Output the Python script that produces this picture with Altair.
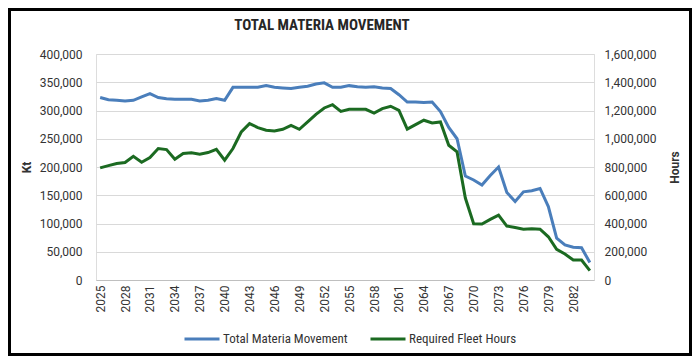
import altair as alt
import pandas as pd

years = list(range(2025, 2085))

material_kt = [
    323000, 319000, 318000, 317000, 318000, 324000, 330000, 323000, 321000, 320000,
    320000, 320000, 317000, 318000, 321000, 318000, 341000, 341000, 341000, 341000,
    344000, 341000, 340000, 339000, 341000, 343000, 347000, 349000, 341000, 341000,
    344000, 342000, 341000, 342000, 340000, 339000, 328000, 315000, 315000, 314000,
    315000, 298000, 270000, 250000, 184000, 177000, 168000, 185000, 200000, 155000,
    139000, 156000, 158000, 162000, 130000, 74000, 62000, 58000, 57000, 31000,
]

fleet_hours = [
    794000, 810000, 825000, 832000, 876000, 834000, 867000, 931000, 923000, 855000,
    895000, 900000, 890000, 902000, 925000, 848000, 931000, 1048000, 1107000, 1079000,
    1060000, 1055000, 1067000, 1095000, 1067000, 1119000, 1173000, 1218000, 1241000, 1194000,
    1208000, 1208000, 1208000, 1182000, 1213000, 1230000, 1201000, 1068000, 1100000, 1131000,
    1112000, 1119000, 954000, 907000, 580000, 398000, 396000, 429000, 459000, 382000,
    372000, 360000, 362000, 360000, 306000, 217000, 184000, 141000, 141000, 66000,
]

x_tick_years = [2025, 2028, 2031, 2034, 2037, 2040, 2043, 2046, 2049, 2052,
                2055, 2058, 2061, 2064, 2067, 2070, 2073, 2076, 2079, 2082]
left_ticks = [0, 50000, 100000, 150000, 200000, 250000, 300000, 350000, 400000]
right_ticks = [0, 200000, 400000, 600000, 800000, 1000000, 1200000, 1400000, 1600000]

series_names = ["Total Materia Movement", "Required Fleet Hours"]
series_colors = ["#4A7EBB", "#1B6A21"]

df = pd.DataFrame({"Year": years, "Material": material_kt, "Hours": fleet_hours})

LABEL_FONT = "Roboto"
NARROW = "Liberation Sans Narrow, Roboto Condensed, Roboto"
W, H = 498, 226

color_scale = alt.Scale(domain=series_names, range=series_colors)
legend = alt.Legend(
    title=None, orient="none", legendX=87, legendY=266,
    direction="horizontal", symbolType="stroke",
    symbolSize=1225, symbolStrokeWidth=3,
    labelFont=NARROW, labelFontSize=13, labelColor="#333333",
    labelOffset=2, columnPadding=16,
)

x_enc = alt.X(
    "Year:O",
    scale=alt.Scale(type="point", padding=0.5),
    axis=alt.Axis(
        values=x_tick_years, labelAngle=270, title=None, ticks=False,
        domainColor="#bfbfbf", labelPadding=5, labelFontSize=12,
        labelFont=LABEL_FONT, labelColor="#333333", grid=False,
    ),
)

base = alt.Chart(df)

blue = base.transform_calculate(Series=f"'{series_names[0]}'").mark_line(strokeWidth=3).encode(
    x=x_enc,
    y=alt.Y(
        "Material:Q",
        scale=alt.Scale(domain=[0, 400000], nice=False),
        axis=alt.Axis(
            values=left_ticks, format=",.0f", title="Kt", titleAngle=270,
            titleFontSize=12, titleFont=LABEL_FONT, titleFontWeight="bold",
            titleColor="#333333", titlePadding=6,
            labelFontSize=12, labelFont=LABEL_FONT, labelColor="#333333",
            labelPadding=14, ticks=False, domain=False,
            grid=True, gridColor="#d9d9d9", gridWidth=1,
        ),
    ),
    color=alt.Color("Series:N", scale=color_scale, legend=legend),
)

green = base.transform_calculate(Series=f"'{series_names[1]}'").mark_line(strokeWidth=3).encode(
    x=x_enc,
    y=alt.Y(
        "Hours:Q",
        scale=alt.Scale(domain=[0, 1600000], nice=False),
        axis=alt.Axis(
            orient="right", values=right_ticks, format=",.0f", title="Hours",
            titleAngle=270, titleFontSize=12, titleFont=LABEL_FONT,
            titleFontWeight="bold", titleColor="#333333", titlePadding=26,
            labelFontSize=12, labelFont=LABEL_FONT, labelColor="#333333",
            labelPadding=10, ticks=False, domain=False, grid=False,
        ),
    ),
    color=alt.Color("Series:N", scale=color_scale, legend=legend),
)

frame = alt.Chart(pd.DataFrame({"f": [0]})).mark_rect(
    filled=False, stroke="black", strokeWidth=3, clip=False
).encode(
    x=alt.value(-86.5), x2=alt.value(W + 96.5),
    y=alt.value(-44.5), y2=alt.value(H + 74.5),
)

chart = alt.layer(blue, green, frame).resolve_scale(y="independent").properties(
    width=W, height=H,
    autosize=alt.AutoSizeParams(type="none"),
    padding={"left": 88, "top": 46, "right": 98, "bottom": 76},
    title=alt.TitleParams(
        "TOTAL MATERIA MOVEMENT", font=NARROW, fontSize=15, fontWeight="bold",
        color="#262626", anchor="middle", offset=-25, dx=-23,
    ),
).configure_view(stroke=None).configure(background="white")

chart.save("out.html", embed_options={"renderer": "svg", "actions": False})
